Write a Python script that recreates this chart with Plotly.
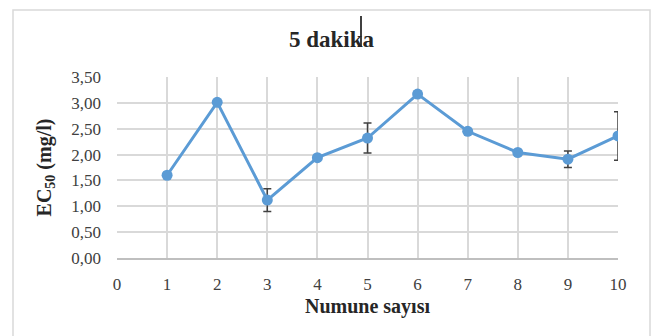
import plotly.graph_objects as go

# EC50 values per sample (5-minute exposure)
samples = [1, 2, 3, 4, 5, 6, 7, 8, 9, 10]
ec50 = [1.60, 3.01, 1.12, 1.94, 2.32, 3.17, 2.45, 2.04, 1.91, 2.36]
ec50_err = [0.02, 0.03, 0.22, 0.03, 0.29, 0.05, 0.03, 0.02, 0.16, 0.47]

x_ticks = list(range(0, 11))
y_ticks = [0, 0.5, 1.0, 1.5, 2.0, 2.5, 3.0, 3.5]
y_tick_text = ["0,00", "0,50", "1,00", "1,50", "2,00", "2,50", "3,00", "3,50"]

serif = "Liberation Serif"
W, H = 656, 336
L, R, T, B = 117, 38, 77, 78
pw, ph = W - L - R, H - T - B


def px_x(x):
    return (x - L) / pw


def px_y(y):
    return (H - B - y) / ph


fig = go.Figure()
fig.add_trace(go.Scatter(
    x=samples, y=ec50,
    mode="lines+markers",
    line=dict(color="#5B9BD5", width=3),
    marker=dict(color="#5B9BD5", size=11),
    error_y=dict(type="data", array=ec50_err, visible=True,
                 color="#404040", thickness=1.5, width=4),
    showlegend=False,
))

fig.update_layout(
    width=W, height=H,
    margin=dict(l=L, r=R, t=T, b=B),
    paper_bgcolor="white",
    plot_bgcolor="white",
    font=dict(family=serif, color="#404040"),
    xaxis=dict(
        range=[0, 10], tickvals=x_ticks, ticktext=[str(v) for v in x_ticks],
        showgrid=True, gridcolor="#d9d9d9", gridwidth=1.5,
        zeroline=False, showline=True, linecolor="#bfbfbf", linewidth=1.5,
        mirror=False, ticks="", ticklabelstandoff=10,
        tickfont=dict(family=serif, size=17, color="#404040"),
        title=dict(text="<b>Numune sayısı</b>", standoff=6,
                   font=dict(family=serif, size=20, color="#262626")),
    ),
    yaxis=dict(
        range=[0, 3.5], tickvals=y_ticks, ticktext=y_tick_text,
        showgrid=True, gridcolor="#d9d9d9", gridwidth=1.5,
        zeroline=False, showline=False, ticks="", ticklabelstandoff=15,
        tickfont=dict(family=serif, size=17, color="#404040"),
        title=dict(text="<b>EC<sub>50</sub> (mg/l)</b>", standoff=14,
                   font=dict(family=serif, size=20, color="#262626")),
    ),
    annotations=[dict(
        text="<b>5 dakika</b>", xref="paper", yref="paper",
        x=px_x(332), y=px_y(39), xanchor="center", yanchor="middle",
        showarrow=False, font=dict(family=serif, size=23, color="#262626"),
    )],
    shapes=[
        # chart frame
        dict(type="rect", xref="paper", yref="paper",
             x0=px_x(13), x1=px_x(650), y0=px_y(345), y1=px_y(10),
             line=dict(color="#d9d9d9", width=1.5), layer="below"),
        # text cursor mark in the title
        dict(type="line", xref="paper", yref="paper",
             x0=px_x(361), x1=px_x(361), y0=px_y(16), y1=px_y(47),
             line=dict(color="black", width=1.5)),
    ],
)

fig.write_html("out.html")
